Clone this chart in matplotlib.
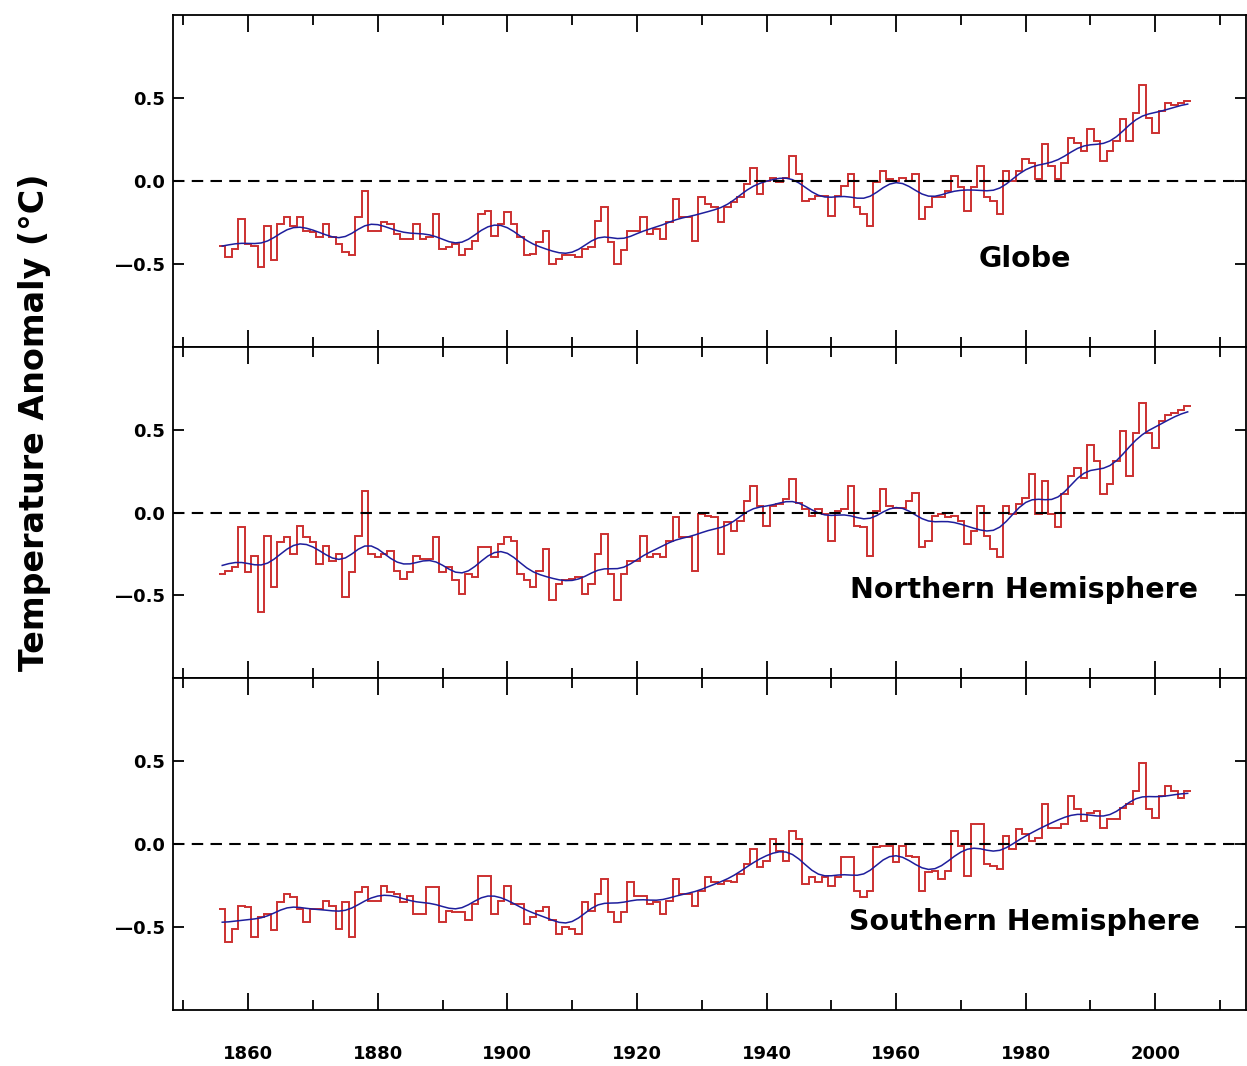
import numpy as np
import matplotlib
matplotlib.use("Agg")
import matplotlib.pyplot as plt
from matplotlib.ticker import MultipleLocator, FixedLocator

# annual temperature anomalies (deg C), 1856-2005
years = np.arange(1856, 2006)

globe = [
    -0.39, -0.46, -0.41, -0.23, -0.38, -0.39, -0.52, -0.27, -0.48, -0.26,
    -0.22, -0.27, -0.22, -0.30, -0.31, -0.34, -0.26, -0.34, -0.38, -0.43,
    -0.45, -0.22, -0.06, -0.30, -0.30, -0.25, -0.26, -0.32, -0.35, -0.35,
    -0.26, -0.35, -0.34, -0.20, -0.41, -0.40, -0.38, -0.45, -0.41, -0.36,
    -0.20, -0.18, -0.33, -0.26, -0.19, -0.26, -0.34, -0.45, -0.44, -0.37,
    -0.30, -0.50, -0.47, -0.45, -0.45, -0.46, -0.41, -0.40, -0.24, -0.16,
    -0.37, -0.50, -0.42, -0.30, -0.30, -0.22, -0.32, -0.29, -0.35, -0.25,
    -0.11, -0.22, -0.22, -0.36, -0.10, -0.14, -0.16, -0.25, -0.16, -0.13,
    -0.10, -0.02, 0.08, -0.08, 0.00, 0.02, -0.01, 0.02, 0.15, 0.04,
    -0.12, -0.11, -0.09, -0.09, -0.21, -0.09, -0.03, 0.04, -0.16, -0.20,
    -0.27, -0.01, 0.06, 0.01, 0.00, 0.02, 0.00, 0.04, -0.23, -0.16,
    -0.10, -0.10, -0.06, 0.03, -0.04, -0.18, -0.04, 0.09, -0.10, -0.12,
    -0.20, 0.06, 0.00, 0.06, 0.13, 0.11, 0.01, 0.22, 0.09, 0.01,
    0.11, 0.26, 0.23, 0.18, 0.31, 0.24, 0.12, 0.18, 0.24, 0.37,
    0.24, 0.41, 0.58, 0.38, 0.29, 0.42, 0.47, 0.46, 0.47, 0.48,
]

north = [
    -0.37, -0.35, -0.33, -0.09, -0.36, -0.26, -0.60, -0.14, -0.45, -0.18,
    -0.15, -0.25, -0.08, -0.15, -0.18, -0.31, -0.20, -0.29, -0.25, -0.51,
    -0.36, -0.14, 0.13, -0.25, -0.27, -0.25, -0.23, -0.35, -0.40, -0.36,
    -0.26, -0.28, -0.28, -0.15, -0.36, -0.33, -0.41, -0.49, -0.37, -0.39,
    -0.21, -0.21, -0.27, -0.19, -0.15, -0.17, -0.37, -0.41, -0.45, -0.35,
    -0.22, -0.53, -0.43, -0.41, -0.40, -0.39, -0.49, -0.43, -0.25, -0.13,
    -0.37, -0.53, -0.37, -0.29, -0.29, -0.14, -0.27, -0.25, -0.27, -0.17,
    -0.03, -0.15, -0.15, -0.35, -0.01, -0.02, -0.03, -0.25, -0.06, -0.11,
    -0.05, 0.07, 0.16, 0.04, -0.08, 0.04, 0.05, 0.08, 0.20, 0.06,
    0.02, -0.02, 0.02, -0.01, -0.17, 0.01, 0.02, 0.16, -0.08, -0.09,
    -0.26, 0.01, 0.14, 0.04, 0.03, 0.03, 0.07, 0.12, -0.21, -0.17,
    -0.02, -0.01, -0.03, -0.02, -0.05, -0.19, -0.11, 0.04, -0.14, -0.22,
    -0.27, 0.04, -0.01, 0.05, 0.09, 0.23, -0.01, 0.19, -0.01, -0.09,
    0.11, 0.22, 0.27, 0.21, 0.41, 0.31, 0.11, 0.17, 0.31, 0.49,
    0.22, 0.48, 0.66, 0.48, 0.39, 0.55, 0.59, 0.60, 0.62, 0.64,
]

south = [
    -0.39, -0.59, -0.51, -0.37, -0.38, -0.56, -0.44, -0.42, -0.52, -0.35,
    -0.30, -0.32, -0.39, -0.47, -0.39, -0.39, -0.34, -0.37, -0.51, -0.35,
    -0.56, -0.29, -0.26, -0.34, -0.34, -0.25, -0.29, -0.30, -0.35, -0.31,
    -0.42, -0.42, -0.26, -0.26, -0.47, -0.40, -0.41, -0.41, -0.46, -0.36,
    -0.19, -0.19, -0.42, -0.34, -0.25, -0.36, -0.36, -0.48, -0.44, -0.40,
    -0.38, -0.46, -0.54, -0.50, -0.51, -0.54, -0.35, -0.40, -0.30, -0.21,
    -0.41, -0.47, -0.41, -0.23, -0.31, -0.31, -0.36, -0.35, -0.42, -0.34,
    -0.21, -0.30, -0.30, -0.37, -0.28, -0.20, -0.23, -0.24, -0.22, -0.23,
    -0.18, -0.12, -0.03, -0.14, -0.10, 0.03, -0.04, -0.10, 0.08, 0.03,
    -0.24, -0.20, -0.23, -0.20, -0.25, -0.20, -0.08, -0.08, -0.28, -0.32,
    -0.28, -0.02, -0.01, -0.01, -0.11, -0.01, -0.07, -0.08, -0.28, -0.17,
    -0.16, -0.21, -0.16, 0.08, -0.01, -0.19, 0.12, 0.12, -0.12, -0.13,
    -0.15, 0.05, -0.03, 0.09, 0.06, 0.02, 0.04, 0.24, 0.10, 0.10,
    0.12, 0.29, 0.21, 0.14, 0.19, 0.20, 0.10, 0.15, 0.15, 0.22,
    0.24, 0.32, 0.49, 0.21, 0.16, 0.29, 0.35, 0.32, 0.28, 0.32,
]

series = [globe, north, south]
names = ["Globe", "Northern Hemisphere", "Southern Hemisphere"]
yticks = [-0.5, 0.0, 0.5]
ytick_labels = ["\u20140.5", "0.0", "0.5"]


def smooth(vals, n=21):
    # binomial filter, weights renormalised near the ends
    w = np.array([1.0])
    for _ in range(n - 1):
        w = np.convolve(w, [0.5, 0.5])
    half = n // 2
    v = np.asarray(vals, dtype=float)
    out = np.empty_like(v)
    for i in range(len(v)):
        lo, hi = max(0, i - half), min(len(v), i + half + 1)
        ww = w[lo - i + half:hi - i + half]
        out[i] = np.sum(ww * v[lo:hi]) / ww.sum()
    return out


plt.rcParams["font.family"] = ["DejaVu Sans"]
plt.rcParams["font.weight"] = "bold"

fig = plt.figure(figsize=(12.47, 10.66), dpi=100)
left, right = 173 / 1247, 1246 / 1247
top, bottom = 1 - 15 / 1066, 1 - 1010 / 1066
h = (top - bottom) / 3

edges = np.append(years, years[-1] + 1) - 0.5

for k, (vals, name) in enumerate(zip(series, names)):
    ax = fig.add_axes([left, top - (k + 1) * h, right - left, h])
    ax.stairs(vals, edges, baseline=None, color="#cc3030", lw=1.4)
    ax.plot(years, smooth(vals), color="#1e1e9c", lw=1.1)
    ax.axhline(0, color="black", lw=1.5, ls=(0, (5.5, 3.5)))
    ax.text(1979.8, -0.47, name, ha="center", va="center", fontsize=20.5,
            fontweight="bold")

    ax.set_xlim(1848.4, 2014.0)
    ax.set_ylim(-1.0, 1.0)
    ax.xaxis.set_major_locator(MultipleLocator(20))
    ax.xaxis.set_minor_locator(MultipleLocator(10))
    ax.yaxis.set_major_locator(FixedLocator(yticks))
    ax.set_yticklabels(ytick_labels)
    ax.tick_params(axis="both", which="both", direction="in",
                   top=True, right=True, width=1.3)
    ax.tick_params(axis="x", which="major", length=12, pad=25, labelsize=13)
    ax.tick_params(axis="x", which="minor", length=7)
    ax.tick_params(axis="y", length=8, pad=6, labelsize=13)
    for sp in ax.spines.values():
        sp.set_linewidth(1.3)
    if k < 2:
        ax.tick_params(axis="x", labelbottom=False)

fig.text(35 / 1247, 1 - 422 / 1066, "Temperature Anomaly (\u00b0C)",
         rotation=90, ha="center", va="center", fontsize=24,
         fontweight="bold")

fig.savefig("out.png", dpi=100)
